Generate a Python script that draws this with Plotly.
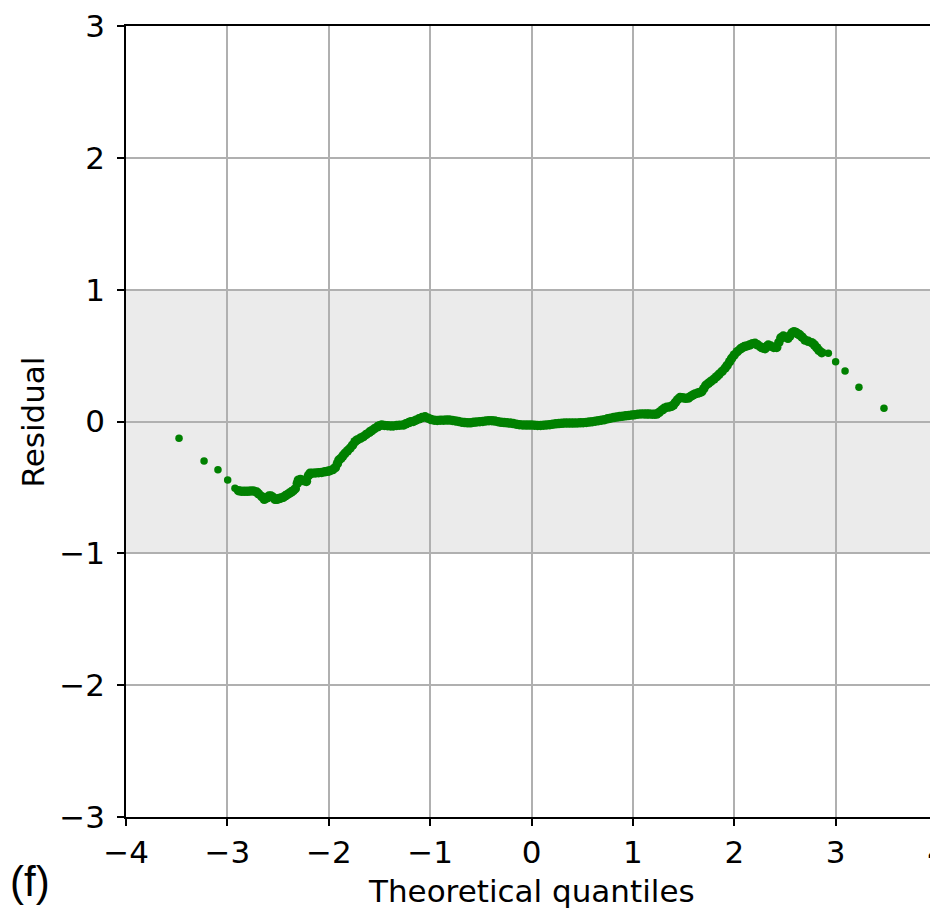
import plotly.graph_objects as go

# Theoretical quantiles (x) and residuals (y)
quantiles = [
    -3.477, -3.23, -3.093, -2.997, -2.925,
    -2.89, -2.86, -2.83, -2.80, -2.77, -2.74, -2.71, -2.69, -2.66, -2.636,
    -2.61, -2.59, -2.57, -2.55, -2.53, -2.51, -2.49, -2.47, -2.45, -2.43,
    -2.41, -2.39, -2.37, -2.35, -2.33, -2.31, -2.30, -2.28, -2.26, -2.24,
    -2.22, -2.20, -2.185, -2.16, -2.13, -2.10, -2.07, -2.04, -2.01, -1.988,
    -1.96, -1.935, -1.915, -1.90, -1.88, -1.86, -1.84, -1.815, -1.79, -1.765,
    -1.741, -1.72, -1.69, -1.659, -1.63, -1.60, -1.576, -1.55, -1.52, -1.50,
    -1.478, -1.45, -1.42, -1.39, -1.363, -1.33, -1.30, -1.265, -1.24, -1.21,
    -1.19, -1.166, -1.14, -1.11, -1.08, -1.05, -1.02, -0.99, -0.96, -0.93,
    -0.90, -0.87, -0.84, -0.81, -0.78, -0.75, -0.72, -0.69, -0.66, -0.63,
    -0.60, -0.57, -0.54, -0.51, -0.48, -0.45, -0.42, -0.39, -0.36, -0.33,
    -0.30, -0.27, -0.24, -0.21, -0.18, -0.15, -0.12, -0.09, -0.06, -0.03,
    0.00, 0.03, 0.06, 0.09, 0.12, 0.15, 0.18, 0.21, 0.24, 0.27,
    0.30, 0.33, 0.36, 0.39, 0.42, 0.45, 0.48, 0.51, 0.54, 0.57,
    0.60, 0.63, 0.66, 0.69, 0.72, 0.75, 0.78, 0.81, 0.84, 0.87,
    0.90, 0.93, 0.96, 0.99, 1.02, 1.05, 1.08, 1.11, 1.136, 1.16,
    1.19, 1.215, 1.235, 1.26, 1.29, 1.31, 1.334, 1.36, 1.38, 1.40,
    1.42, 1.44, 1.465, 1.49, 1.52, 1.547, 1.57, 1.59, 1.613, 1.64,
    1.66, 1.679, 1.70, 1.72, 1.745, 1.77, 1.80, 1.827, 1.85, 1.88,
    1.909, 1.93, 1.955, 1.975, 2.00, 2.03, 2.057, 2.08, 2.10, 2.123,
    2.15, 2.18, 2.205, 2.23, 2.26, 2.28, 2.304, 2.32, 2.336, 2.36,
    2.39, 2.419, 2.44, 2.46, 2.484, 2.51, 2.53, 2.55, 2.57, 2.589,
    2.61, 2.63, 2.648, 2.67, 2.698, 2.73, 2.764, 2.79, 2.813, 2.835,
    2.863,
    2.928, 3.0, 3.093, 3.23, 3.477,
]
residuals = [
    -0.127, -0.30, -0.366, -0.444, -0.507,
    -0.525, -0.530, -0.530, -0.530, -0.528, -0.527, -0.535, -0.550, -0.570, -0.590,
    -0.580, -0.565, -0.565, -0.575, -0.590, -0.590, -0.585, -0.580, -0.575, -0.565,
    -0.555, -0.545, -0.535, -0.525, -0.510, -0.470, -0.445, -0.440, -0.445, -0.450,
    -0.455, -0.410, -0.393, -0.392, -0.390, -0.388, -0.386, -0.382, -0.378, -0.373,
    -0.365, -0.350, -0.320, -0.292, -0.280, -0.260, -0.241, -0.222, -0.203, -0.180,
    -0.153, -0.140, -0.128, -0.115, -0.098, -0.082, -0.070, -0.055, -0.040, -0.032,
    -0.027, -0.030, -0.032, -0.034, -0.034, -0.030, -0.028, -0.027, -0.018, -0.008,
    -0.002, 0.000, 0.010, 0.020, 0.030, 0.036, 0.025, 0.015, 0.010, 0.008,
    0.010, 0.010, 0.011, 0.011, 0.008, 0.004, 0.000, -0.005, -0.008, -0.010,
    -0.010, -0.006, -0.003, -0.002, 0.000, 0.004, 0.006, 0.006, 0.003, -0.002,
    -0.006, -0.008, -0.010, -0.012, -0.016, -0.020, -0.024, -0.026, -0.027, -0.027,
    -0.027, -0.028, -0.030, -0.030, -0.028, -0.026, -0.024, -0.020, -0.018, -0.016,
    -0.014, -0.012, -0.012, -0.012, -0.012, -0.011, -0.010, -0.009, -0.007, -0.004,
    -0.002, 0.002, 0.006, 0.010, 0.014, 0.020, 0.025, 0.030, 0.034, 0.037,
    0.040, 0.043, 0.046, 0.049, 0.052, 0.055, 0.057, 0.057, 0.056, 0.056,
    0.055, 0.055, 0.056, 0.070, 0.088, 0.100, 0.108, 0.110, 0.115, 0.125,
    0.145, 0.165, 0.182, 0.180, 0.176, 0.178, 0.190, 0.200, 0.209, 0.216,
    0.220, 0.226, 0.250, 0.275, 0.290, 0.305, 0.322, 0.340, 0.358, 0.380,
    0.404, 0.425, 0.455, 0.479, 0.505, 0.530, 0.548, 0.560, 0.568, 0.573,
    0.580, 0.590, 0.593, 0.582, 0.565, 0.558, 0.552, 0.568, 0.580, 0.572,
    0.562, 0.562, 0.600, 0.635, 0.648, 0.640, 0.631, 0.650, 0.672, 0.681,
    0.675, 0.664, 0.656, 0.640, 0.618, 0.608, 0.598, 0.582, 0.560, 0.540,
    0.522,
    0.517, 0.454, 0.383, 0.259, 0.100,
]

x_ticks = [-4, -3, -2, -1, 0, 1, 2, 3, 4]
y_ticks = [-3, -2, -1, 0, 1, 2, 3]
band_low, band_high = -1, 1

FONT = "DejaVu Sans"

# isolated tail points are drawn at the true marker size; the densely
# overlapping middle points are drawn a bit larger to match the band's width
n_tail = 5
marker_sizes = [7.5] * n_tail + [9.5] * (len(quantiles) - 2 * n_tail) + [7.5] * n_tail

fig = go.Figure()
fig.add_trace(go.Scatter(
    x=quantiles, y=residuals, mode="markers",
    marker=dict(color="#008000", size=marker_sizes, opacity=1, line=dict(width=0)),
    showlegend=False, hoverinfo="skip",
))

fig.add_shape(type="rect", xref="paper", yref="y", x0=0, x1=1,
              y0=band_low, y1=band_high, fillcolor="#ebebeb",
              line=dict(width=0), layer="below")

axis_common = dict(
    showgrid=True, gridcolor="#b0b0b0", gridwidth=1.6,
    zeroline=False, showline=True, linecolor="black", linewidth=1.6,
    mirror=True, ticks="outside", ticklen=7, tickwidth=1.5, tickcolor="black",
    tickfont=dict(family=FONT, size=31, color="black"), automargin=False,
    ticklabeloverflow="allow",
)

fig.update_xaxes(range=[-4, 4], tickvals=x_ticks, **axis_common)
fig.update_yaxes(range=[-3, 3], tickvals=y_ticks, ticklabelstandoff=6, **axis_common)

fig.add_annotation(text="Theoretical quantiles", xref="paper", yref="paper",
                   x=0.5, y=-0.093, xanchor="center", yanchor="middle",
                   showarrow=False, font=dict(family=FONT, size=31, color="black"))
fig.add_annotation(text="Residual", xref="paper", yref="paper",
                   x=-0.1147, y=0.5, xanchor="center", yanchor="middle", textangle=-90,
                   showarrow=False, font=dict(family=FONT, size=31, color="black"))
fig.add_annotation(text="(f)", xref="paper", yref="paper",
                   x=-0.1455, y=-0.049, xanchor="left", yanchor="top",
                   showarrow=False, font=dict(family="Liberation Sans", size=42, color="black"))

fig.update_layout(
    width=930, height=904, autosize=False,
    margin=dict(l=118, r=1, t=18, b=95, pad=0),
    plot_bgcolor="white", paper_bgcolor="white",
    template="none",
)

fig.write_html("out.html")
